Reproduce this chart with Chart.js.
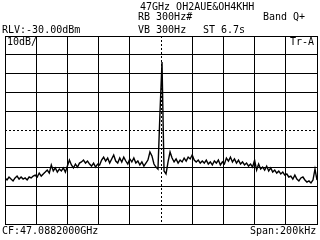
<!DOCTYPE html>
<html>
<head>
<meta charset="utf-8">
<script src="https://cdn.jsdelivr.net/npm/chart.js@4"></script>
<style>
  html, body { margin: 0; padding: 0; background: #fff; }
  #wrap { position: relative; width: 320px; height: 240px; overflow: hidden; }
  .t {
    position: absolute;
    font-family: "DejaVu Sans Mono", monospace;
    font-size: 10px;
    line-height: 10px;
    color: #000;
    white-space: pre;
  }
</style>
</head>
<body>
<div id="wrap">
  <canvas id="myTrace" width="320" height="240"></canvas>
  <span class="t" style="left:140px;top:2px">47GHz OH2AUE&amp;OH4KHH</span>
  <span class="t" style="left:138px;top:12px">RB 300Hz#</span>
  <span class="t" style="left:263px;top:12px">Band Q+</span>
  <span class="t" style="left:2px;top:25px">RLV:-30.00dBm</span>
  <span class="t" style="left:138px;top:25px">VB 300Hz</span>
  <span class="t" style="left:203px;top:25px">ST 6.7s</span>
  <span class="t" style="left:7px;top:37px">10dB/</span>
  <span class="t" style="left:290px;top:37px">Tr-A</span>
  <span class="t" style="left:2px;top:226px">CF:47.0882000GHz</span>
  <span class="t" style="left:250px;top:226px">Span:200kHz</span>
</div>
<script>
// sweep: 200 kHz span around the centre frequency, 10 dB/div from -30 dBm
const spanKHz = 200;
const refLevel = -30;
const bottomLevel = -130;
const centerKHz = 0;
const midLevel = -80;

// trace A (dBm), left to right
const traceA = [
  -105.5, -106.6, -105.0, -106.1, -107.1, -105.5, -104.5, -106.1,
  -105.0, -106.1, -105.5, -106.6, -105.0, -105.5, -104.5,
  -104.0, -105.0, -102.9, -104.5, -103.4,
  -102.4, -101.3, -102.9, -98.6, -101.8, -100.2,
  -102.4, -100.8, -101.8, -100.2, -102.4, -99.2, -96.0, -98.6, -100.2, -98.1, -99.7, -97.6,
  -97.0, -96.0, -97.6, -96.5, -98.1, -99.2, -97.6, -99.7, -98.1, -98.6,
  -96.0, -94.4, -96.5, -94.9, -97.6, -95.4, -93.3, -96.5, -97.6, -94.9,
  -97.0, -94.4, -96.5, -98.1, -95.4, -97.0, -94.9, -97.6, -96.5, -98.6,
  -97.0, -99.2, -97.6, -96.0, -91.7, -93.8, -98.1, -99.7, -100.8,
  -70.5, -43.8,
  -101.8, -103.4, -97.0, -91.7, -94.9, -97.0, -95.4, -97.6, -96.0, -97.0,
  -94.9, -96.5, -94.4, -95.4, -93.3, -96.0, -97.0, -96.0, -97.6, -96.5,
  -97.6, -96.0, -98.1, -97.0, -98.6, -96.5, -97.6, -96.0, -98.6, -97.0,
  -98.1, -94.9, -96.5, -94.4, -97.0, -95.4, -97.6, -96.0, -98.1, -97.0,
  -98.6, -97.6, -99.2, -98.1, -99.7, -96.0, -101.3, -98.1, -100.8, -99.7,
  -101.3, -99.2, -101.8, -100.2, -102.4, -101.3, -102.9, -101.8, -103.4, -102.4,
  -104.0, -103.4, -105.0, -104.5, -106.1, -104.0, -106.1, -107.1, -105.5, -105.0,
  -106.6, -107.7, -107.1, -108.2, -106.6, -100.8, -106.6,
];

// sweep points are evenly spaced across the span
const points = traceA.map((v, i) => ({
  x: -spanKHz / 2 + (i * spanKHz) / (traceA.length - 1),
  y: v,
}));

const black = "#000";
const hideCentre = (val) => (c) =>
  c.tick && c.tick.value === val ? "rgba(0,0,0,0)" : black;

const ctx = document.getElementById("myTrace").getContext("2d");

const myChart = new Chart(ctx, {
  type: "line",
  data: {
    datasets: [
      {
        data: points,
        borderColor: black,
        borderWidth: 1.4,
        pointRadius: 0,
        tension: 0,
      },
    ],
  },
  options: {
    responsive: false,
    animation: false,
    layout: {
      padding: { left: 5, top: 36, right: 3, bottom: 16 },
    },
    plugins: {
      legend: { display: false },
      tooltip: { enabled: false },
    },
    scales: {
      x: {
        type: "linear",
        min: -spanKHz / 2,
        max: spanKHz / 2,
        ticks: { display: false, stepSize: 20 },
        grid: { color: hideCentre(centerKHz), drawTicks: false },
        border: { color: black },
      },
      xc: {
        type: "linear",
        axis: "x",
        position: "bottom",
        min: -spanKHz / 2,
        max: spanKHz / 2,
        afterBuildTicks: (s) => {
          s.ticks = [{ value: centerKHz }];
        },
        ticks: { display: false },
        grid: { color: black, drawTicks: false },
        border: { display: false, dash: [2, 2] },
      },
      y: {
        min: bottomLevel,
        max: refLevel,
        ticks: { display: false, stepSize: 10 },
        grid: { color: hideCentre(midLevel), drawTicks: false },
        border: { color: black },
      },
      yc: {
        type: "linear",
        axis: "y",
        position: "left",
        min: bottomLevel,
        max: refLevel,
        afterBuildTicks: (s) => {
          s.ticks = [{ value: midLevel }];
        },
        ticks: { display: false },
        grid: { color: black, drawTicks: false },
        border: { display: false, dash: [2, 2] },
      },
    },
  },
});
</script>
</body>
</html>
